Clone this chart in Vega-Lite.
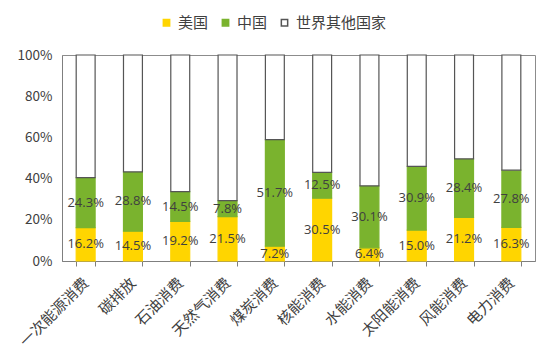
{
  "$schema": "https://vega.github.io/schema/vega-lite/v6.json",
  "width": 473,
  "height": 206,
  "autosize": "none",
  "padding": {"left": 62, "top": 55, "right": 18, "bottom": 98},
  "background": "white",
  "config": {
    "font": "Noto Sans CJK SC",
    "view": {"stroke": "#8c8c8c", "strokeWidth": 1}
  },
  "data": {
    "values": [
      {"cat": "一次能源消费", "region": "美国", "ord": 1, "v": 0.162},
      {"cat": "一次能源消费", "region": "中国", "ord": 2, "v": 0.243},
      {"cat": "一次能源消费", "region": "世界其他国家", "ord": 3, "v": 0.595},
      {"cat": "碳排放", "region": "美国", "ord": 1, "v": 0.145},
      {"cat": "碳排放", "region": "中国", "ord": 2, "v": 0.288},
      {"cat": "碳排放", "region": "世界其他国家", "ord": 3, "v": 0.567},
      {"cat": "石油消费", "region": "美国", "ord": 1, "v": 0.192},
      {"cat": "石油消费", "region": "中国", "ord": 2, "v": 0.145},
      {"cat": "石油消费", "region": "世界其他国家", "ord": 3, "v": 0.663},
      {"cat": "天然气消费", "region": "美国", "ord": 1, "v": 0.215},
      {"cat": "天然气消费", "region": "中国", "ord": 2, "v": 0.078},
      {"cat": "天然气消费", "region": "世界其他国家", "ord": 3, "v": 0.707},
      {"cat": "煤炭消费", "region": "美国", "ord": 1, "v": 0.072},
      {"cat": "煤炭消费", "region": "中国", "ord": 2, "v": 0.517},
      {"cat": "煤炭消费", "region": "世界其他国家", "ord": 3, "v": 0.411},
      {"cat": "核能消费", "region": "美国", "ord": 1, "v": 0.305},
      {"cat": "核能消费", "region": "中国", "ord": 2, "v": 0.125},
      {"cat": "核能消费", "region": "世界其他国家", "ord": 3, "v": 0.570},
      {"cat": "水能消费", "region": "美国", "ord": 1, "v": 0.064},
      {"cat": "水能消费", "region": "中国", "ord": 2, "v": 0.301},
      {"cat": "水能消费", "region": "世界其他国家", "ord": 3, "v": 0.635},
      {"cat": "太阳能消费", "region": "美国", "ord": 1, "v": 0.150},
      {"cat": "太阳能消费", "region": "中国", "ord": 2, "v": 0.309},
      {"cat": "太阳能消费", "region": "世界其他国家", "ord": 3, "v": 0.541},
      {"cat": "风能消费", "region": "美国", "ord": 1, "v": 0.212},
      {"cat": "风能消费", "region": "中国", "ord": 2, "v": 0.284},
      {"cat": "风能消费", "region": "世界其他国家", "ord": 3, "v": 0.504},
      {"cat": "电力消费", "region": "美国", "ord": 1, "v": 0.163},
      {"cat": "电力消费", "region": "中国", "ord": 2, "v": 0.278},
      {"cat": "电力消费", "region": "世界其他国家", "ord": 3, "v": 0.559}
    ]
  },
  "encoding": {
    "x": {
      "field": "cat",
      "type": "nominal",
      "sort": null,
      "title": null,
      "scale": {"paddingInner": 0.6, "paddingOuter": 0.3},
      "axis": {
        "labelAngle": -45,
        "labelAlign": "right",
        "labelBaseline": "middle",
        "labelFontSize": 15,
        "labelColor": "#404040",
        "labelPadding": 14,
        "tickBand": "extent",
        "tickSize": 5,
        "tickColor": "#7f7f7f",
        "domainColor": "#7f7f7f"
      }
    }
  },
  "layer": [
    {
      "mark": {"type": "bar", "strokeWidth": 1.2},
      "encoding": {
        "y": {
          "field": "v",
          "type": "quantitative",
          "stack": "zero",
          "title": null,
          "scale": {"domain": [0, 1], "nice": false},
          "axis": {
            "format": ".0%",
            "values": [0, 0.2, 0.4, 0.6, 0.8, 1],
            "grid": false,
            "ticks": false,
            "labelFontSize": 13.5,
            "labelColor": "#404040",
            "labelPadding": 10,
            "domainColor": "#7f7f7f"
          }
        },
        "order": {"field": "ord", "type": "quantitative"},
        "color": {
          "field": "region",
          "type": "nominal",
          "title": null,
          "scale": {"domain": ["美国", "中国", "世界其他国家"], "range": ["#FFD500", "#7AB32E", "#FFFFFF"]},
          "legend": {
            "orient": "none",
            "direction": "horizontal",
            "legendX": 97,
            "legendY": -40,
            "symbolType": "square",
            "symbolSize": 40,
            "labelFontSize": 15,
            "labelColor": "#404040",
            "columnPadding": 9,
            "labelOffset": 4
          }
        },
        "stroke": {
          "field": "region",
          "type": "nominal",
          "title": null,
          "scale": {"domain": ["美国", "中国", "世界其他国家"], "range": ["#FFD500", "#7AB32E", "#555555"]},
          "legend": {
            "orient": "none",
            "direction": "horizontal",
            "legendX": 97,
            "legendY": -40,
            "symbolType": "square",
            "symbolSize": 40,
            "labelFontSize": 15,
            "labelColor": "#404040",
            "columnPadding": 9,
            "labelOffset": 4
          }
        }
      }
    },
    {
      "transform": [{"filter": "datum.ord < 3"}],
      "mark": {"type": "text", "fontSize": 13, "color": "#404040", "baseline": "middle", "font": "Open Sans"},
      "encoding": {
        "y": {"field": "v", "type": "quantitative", "stack": "zero", "bandPosition": 0.5},
        "order": {"field": "ord", "type": "quantitative"},
        "text": {"field": "v", "type": "quantitative", "format": ".1%"}
      }
    }
  ]
}
